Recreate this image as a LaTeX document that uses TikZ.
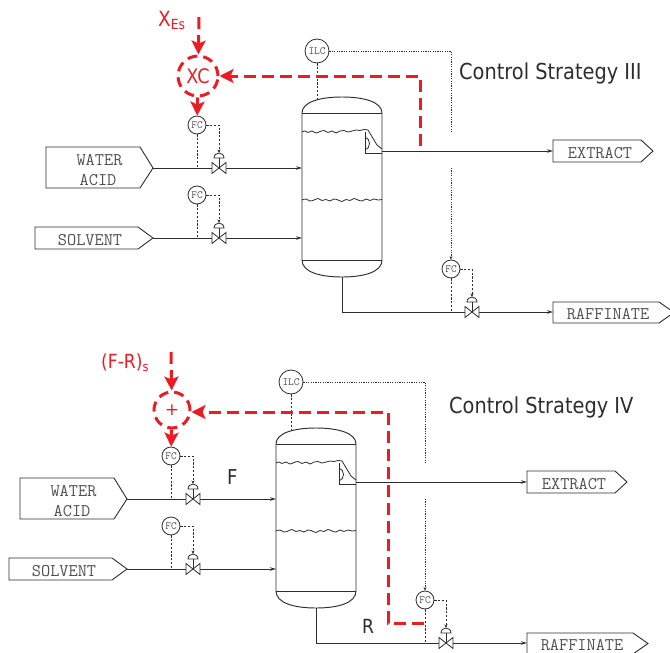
\documentclass[tikz,border=0pt]{standalone}
\usepackage{fontspec}
\setmainfont{DejaVu Sans}
\usetikzlibrary{arrows.meta}
\definecolor{pidred}{RGB}{237,28,36}
\definecolor{ink}{RGB}{45,45,45}
\definecolor{txtgray}{RGB}{80,80,80}
\tikzset{
 vessel/.style={draw=ink, line width=0.95pt},
 thinline/.style={draw=ink, line width=0.8pt},
 boxline/.style={draw=ink, line width=0.9pt},
 pipe/.style={draw=ink, line width=0.9pt, -{Stealth[length=6pt,width=3.5pt]}},
 sig/.style={draw=ink, line width=0.8pt, dash pattern=on 2.2pt off 1.6pt},
 ilcsig/.style={draw=ink, line width=0.8pt, dash pattern=on 1.2pt off 1.2pt},
 smalltip/.style={-{Stealth[length=3.5pt,width=3pt]}},
 inst/.style={circle, draw=ink, line width=0.8pt, fill=white, minimum size=18pt, inner sep=0pt, text=txtgray, font=\ttfamily\fontsize{11}{11}\selectfont},
 boxtxt/.style={inner sep=0pt, text=txtgray, font=\ttfamily\fontsize{17.8}{17.8}\selectfont},
 redsig/.style={draw=pidred, line width=3pt, dash pattern=on 12pt off 6pt},
 redtip/.style={-{Stealth[length=14pt,width=14pt,inset=3pt]}},
 redcirc/.style={circle, draw=pidred, line width=3pt, dash pattern=on 10pt off 6pt, inner sep=0pt, text=pidred},
 redlbl/.style={inner sep=0pt, text=pidred},
 blacklbl/.style={inner sep=0pt, text=ink},
 valve/.pic={
  \draw[ink, line width=0.8pt, fill=white] (-7,-5.5) -- (7,5.5) -- (7,-5.5) -- (-7,5.5) -- cycle;
  \draw[ink, line width=0.8pt] (0,0) -- (0,-10);
  \draw[ink, line width=0.8pt, fill=white] (-5,-10) -- (5,-10) .. controls (5,-16.5) and (-5,-16.5) .. (-5,-10) -- cycle;
 }
}
\newcommand{\pidunit}[1]{%
 % feed boxes
 \draw[boxline] (46,147) -- (140,147) -- (153,168) -- (140,188) -- (46,188) -- cycle;
 \coordinate (#1wtip) at (153,168);
 \node[boxtxt, anchor=base] (#1water) at (99.5,165) {WATER};
 \node[boxtxt, anchor=base] (#1acid) at (98,185.5) {ACID};
 \draw[boxline] (35,227) -- (138,227) -- (153,238) -- (138,249) -- (35,249) -- cycle;
 \coordinate (#1stip) at (153,238);
 \node[boxtxt, anchor=base] (#1solv) at (90,245) {SOLVENT};
 % product boxes
 \draw[boxline] (553,140) -- (641,140) -- (653,151) -- (641,162) -- (553,162) -- cycle;
 \coordinate (#1xin) at (553,151);
 \node[boxtxt, anchor=base] (#1extr) at (600,158) {EXTRACT};
 \draw[boxline] (553,302) -- (659,302) -- (674,312.5) -- (659,323) -- (553,323) -- cycle;
 \coordinate (#1rin) at (553,312);
 \node[boxtxt, anchor=base] (#1raff) at (608,319) {RAFFINATE};
 % vessel
 \draw[vessel] (302,113) -- (302,260) .. controls (302,272) and (320,277) .. (342,277)
   .. controls (364,277) and (382,272) .. (382,260) -- (382,113)
   .. controls (382,102) and (364,97) .. (342,97) .. controls (320,97) and (302,102) .. (302,113) -- cycle;
 \draw[thinline] (302,113) -- (382,113);
 \draw[thinline] (302,260) -- (382,260);
 \draw[thinline] plot[smooth] coordinates {(302,132)(305,131)(308,132.5)(312,131)(316,133)(320,131.5)(324,130.5)(328,132.5)(332,131)(336,133)(340,131)(344,130.5)(348,132)(352,131)(356,130)(360,130.5)(364,129.5)(368,130)};
 \draw[thinline] (368,130) -- (377,145) -- (382,149);
 \draw[thinline] (365,132) -- (365,153) -- (382,153);
 \draw[thinline] (365,137) .. controls (371,139) and (371,148) .. (365,150);
 \draw[thinline] plot[smooth] coordinates {(302,200)(306,199)(310,201)(314,200)(318,198.5)(322,200.5)(326,199.5)(330,201)(334,199)(338,200)(342,201.5)(346,199.5)(350,200.5)(354,198.5)(358,200)(362,201)(366,199)(370,200.5)(374,199)(378,200)(382,199.5)};
 \coordinate (#1f1in) at (302,168);
 \coordinate (#1f2in) at (302,238);
 \coordinate (#1xout) at (382,151);
 \coordinate (#1rout) at (342,277);
 \coordinate (#1ilctap) at (317,99);
 % pipes
 \draw[pipe] (#1wtip) -- (#1f1in);
 \draw[pipe] (#1stip) -- (#1f2in);
 \draw[pipe] (#1xout) -- (#1xin);
 \draw[pipe] (#1rout) |- (#1rin);
 % instruments
 \node[inst] (#1fc1) at (197,125) {FC};
 \node[inst] (#1fc2) at (197,195) {FC};
 \node[inst] (#1fc3) at (451,269) {FC};
 \node[inst, minimum size=24pt] (#1ilc) at (317,51) {ILC};
 \coordinate (#1v1) at (219,168);
 \coordinate (#1v2) at (219,238);
 \coordinate (#1v3) at (472,312);
 \coordinate (#1v1a) at (219,153);
 \coordinate (#1v2a) at (219,223);
 \coordinate (#1v3a) at (472,297);
 \coordinate (#1g1) at (451,133);
 \coordinate (#1g2) at (451,168);
 \draw[sig] (#1fc1) -- (#1fc1 |- #1wtip);
 \draw[sig] (#1fc2) -- (#1fc2 |- #1stip);
 \draw[sig] (#1fc3) -- (#1fc3 |- #1rin);
 \draw[sig, smalltip] (#1fc1) -| (#1v1a);
 \draw[sig, smalltip] (#1fc2) -| (#1v2a);
 \draw[sig, smalltip] (#1fc3) -| (#1v3a);
 \draw[sig] (#1ilc) -- (#1ilctap);
 \draw[ilcsig] (#1ilc) -| (#1g1);
 \draw[ilcsig, smalltip] (#1g2) -- (#1fc3);
 \pic at (#1v1) {valve};
 \pic at (#1v2) {valve};
 \pic at (#1v3) {valve};
}
\begin{document}
\begin{tikzpicture}[x=1pt, y=-1pt]
\useasboundingbox (0,0) rectangle (670,653);
\begin{scope}
 \pidunit{T-}
\end{scope}
\begin{scope}[shift={(-26,331)}]
 \pidunit{B-}
\end{scope}
% titles
\node[blacklbl, anchor=base west, font=\fontsize{22}{22}\selectfont] (t3) at (459,79) {\scalebox{0.88}[1]{Control Strategy III}};
\node[blacklbl, anchor=base west, font=\fontsize{22}{22}\selectfont] (t4) at (449,413) {\scalebox{0.88}[1]{Control Strategy IV}};
% flow labels
\node[blacklbl, anchor=base west, font=\fontsize{20.5}{20.5}\selectfont] (flbl) at (227,484) {\scalebox{0.88}[1]{F}};
\node[blacklbl, anchor=base west, font=\fontsize{19.5}{19.5}\selectfont] (rlbl) at (362,633) {\scalebox{0.88}[1]{R}};
% strategy III red loop
\node[redlbl, anchor=base west, font=\fontsize{21}{21}\selectfont] (xes) at (158,27) {\scalebox{0.88}[1]{X\raisebox{-3pt}{\fontsize{14}{14}\selectfont Es}}};
\node[redcirc, minimum size=40pt, font=\fontsize{20}{20}\selectfont] (xc) at (198,76) {\scalebox{0.88}[1]{XC}};
\coordinate (xsrc) at (199,17);
\draw[redsig, redtip] (xsrc) -- (xc);
\draw[redsig, redtip] (xc) -- (T-fc1);
\coordinate (rA) at (420,146);
\coordinate (rB) at (420,76);
\draw[redsig, redtip] (rA) -- (rB) -- (xc);
% strategy IV red loop
\node[redlbl, anchor=base west, font=\fontsize{19.5}{19.5}\selectfont] (frs) at (101,368) {\scalebox{0.88}[1]{(F-R)\raisebox{-3pt}{\fontsize{13}{13}\selectfont s}}};
\node[redcirc, minimum size=36pt, font=\fontsize{17}{17}\selectfont] (sum) at (172,410) {+};
\coordinate (fsrc) at (171,352);
\draw[redsig, redtip] (fsrc) -- (sum);
\draw[redsig, redtip] (sum) -- (B-fc1);
\coordinate (rC) at (424,623);
\coordinate (rD) at (388,623);
\coordinate (rE) at (388,412);
\draw[redsig, redtip] (rC) -- (rD) -- (rE) -- (sum.east |- rE);
\end{tikzpicture}
\end{document}
